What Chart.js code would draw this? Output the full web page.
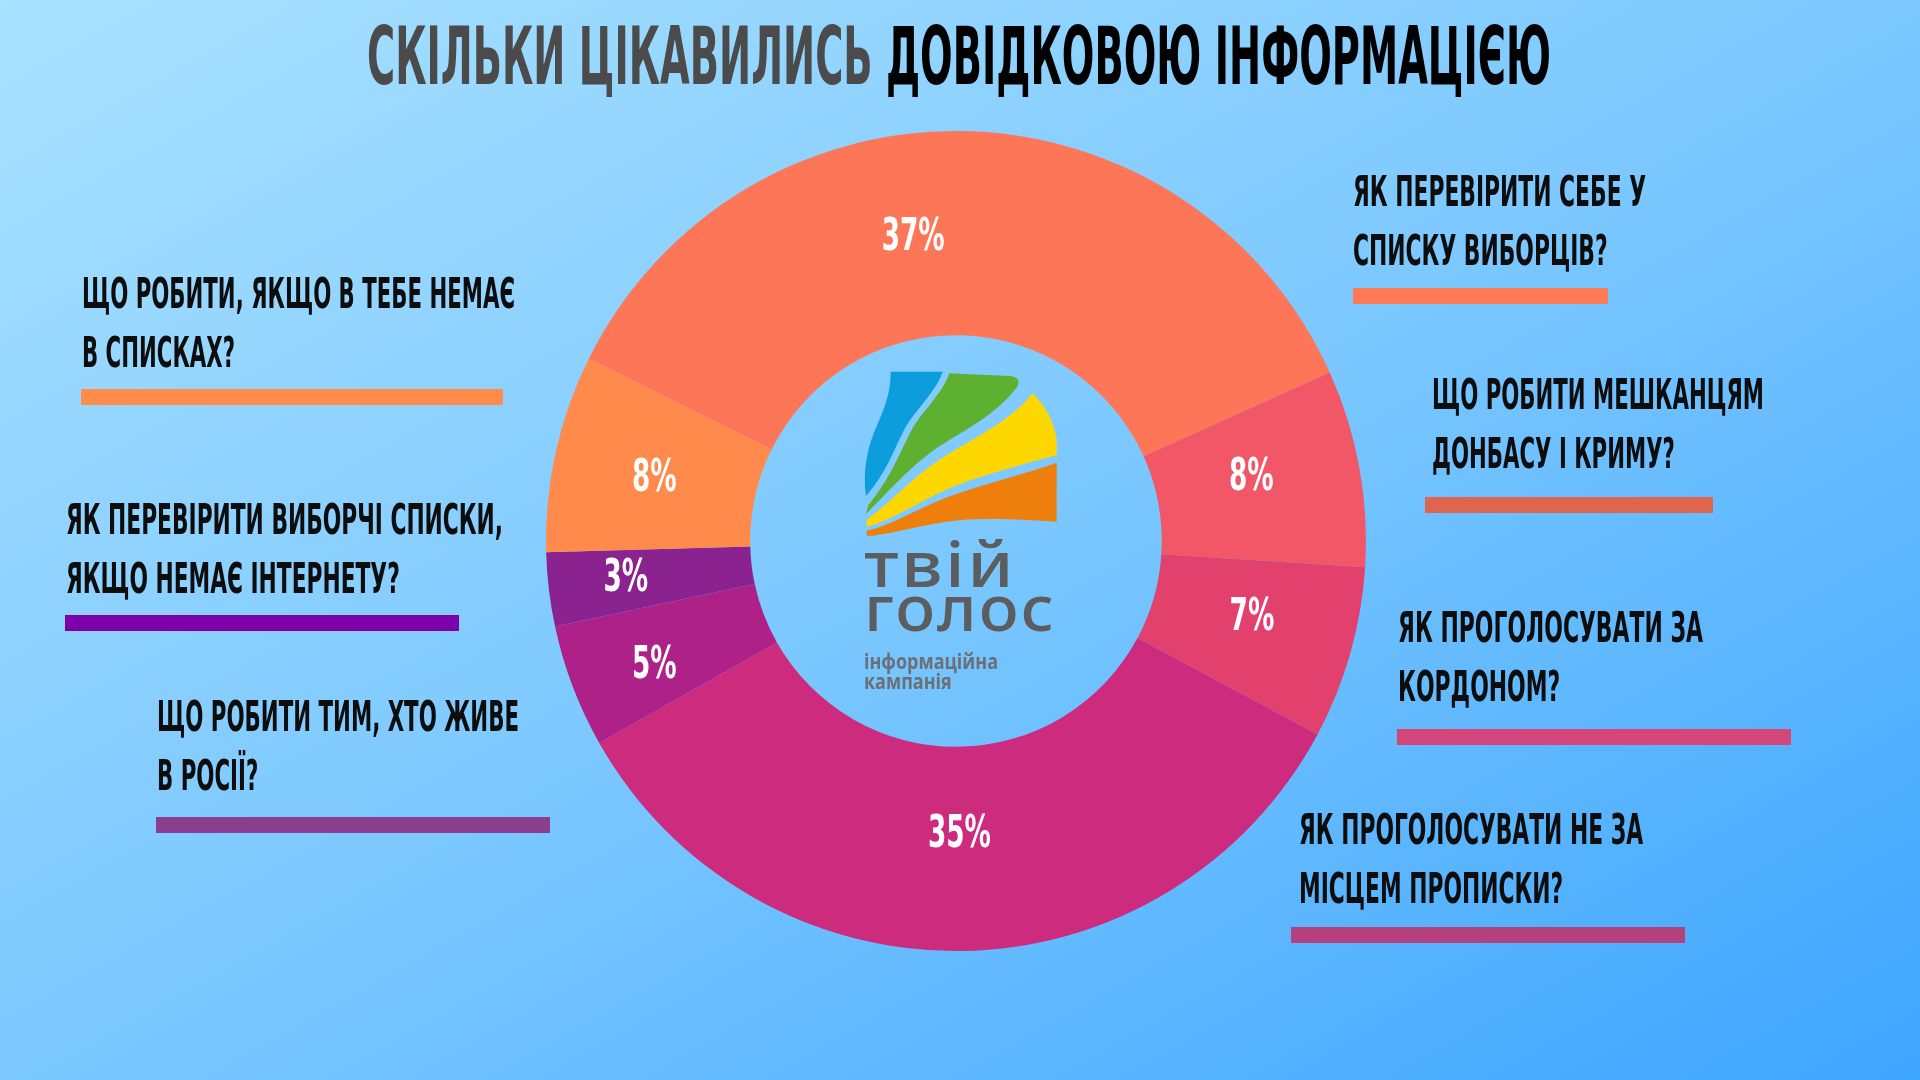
<!DOCTYPE html>
<html lang="uk">
<head>
<meta charset="utf-8">
<title>Скільки цікавились довідковою інформацією</title>
<script src="https://cdn.jsdelivr.net/npm/chart.js@4.4.1/dist/chart.umd.min.js"></script>
<style>
  html, body { margin: 0; padding: 0; }
  body {
    width: 1920px; height: 1080px; overflow: hidden; position: relative;
    background: linear-gradient(to bottom right, #a9e1ff 0%, #7cc8ff 50%, #3ea5fe 100%);
  }
  #chart { position: absolute; left: 0; top: 0; width: 1920px; height: 1080px; }
  .cond { font-family: "Liberation Sans Narrow", "DejaVu Sans Condensed", sans-serif; font-weight: 700; }
  #title {
    position: absolute; left: 367px; top: 16px;
    font-size: 81px; line-height: 81px; white-space: nowrap; width: max-content;
    transform-origin: 0 0; color: #000;
  }
  #title .grey { color: #4b4b4b; }
  .label {
    position: absolute; font-size: 42px; line-height: 59px; color: #0d0d0d;
    transform-origin: 0 0;
  }
  .label span { display: block; width: max-content; white-space: nowrap; }
  .bar { position: absolute; height: 16px; }
  #logo { position: absolute; left: 860px; top: 370px; width: 200px; height: 166.67px; }
  .logo-word {
    position: absolute; left: 864px; font-family: "Noto Sans", sans-serif; font-weight: 500;
    font-size: 64px; line-height: 64px; color: #5c5d5f; letter-spacing: 2px;
    white-space: nowrap; width: max-content; transform-origin: 0 0;
  }
  #info {
    position: absolute; left: 864px; top: 651px; font-family: "Open Sans", sans-serif;
    font-weight: 700; font-size: 21px; line-height: 20px; color: #6b7076; transform-origin: 0 0;
  }
  #info span { display: block; width: max-content; white-space: nowrap; }
</style>
</head>
<body>
<canvas id="chart" width="1920" height="1080"></canvas>

<div id="title" class="cond"><span class="grey">СКІЛЬКИ ЦІКАВИЛИСЬ</span> ДОВІДКОВОЮ ІНФОРМАЦІЄЮ</div>

<svg id="logo" viewBox="360 90 600 500">
  <path fill="#0b9ddc" d="M452,95 L608,95 C585,160 525,210 495,265 C465,320 440,400 378,468 C368,400 380,330 405,270 C435,200 452,160 452,95 Z"/>
  <path fill="#5db030" d="M628,100 L810,108 Q845,112 832,140 C760,235 650,280 575,335 C495,395 440,460 378,522 L385,495 C455,410 485,325 515,270 C545,215 605,165 628,100 Z"/>
  <path fill="#ffd700" d="M878,160 C920,200 945,255 950,300 L950,345 C860,370 740,400 640,440 C540,480 460,540 380,560 L380,540 C460,480 520,410 605,355 C690,300 805,250 878,160 Z"/>
  <path fill="#ee7f0d" d="M950,368 L950,545 C860,540 720,530 620,545 C520,560 440,585 380,588 L380,572 C460,555 540,500 640,465 C740,430 860,400 950,368 Z"/>
</svg>
<div id="tvii" class="logo-word" style="top:531px">твій</div>
<div id="golos" class="logo-word" style="top:575px">голос</div>
<div id="info"><span>інформаційна</span><span>кампанія</span></div>

<div id="labels"></div>

<script>
// Питання (по годинниковій стрілці, від верхнього сегмента)
const categories = [
  ['ЯК ПЕРЕВІРИТИ СЕБЕ У', 'СПИСКУ ВИБОРЦІВ?'],
  ['ЩО РОБИТИ МЕШКАНЦЯМ', 'ДОНБАСУ І КРИМУ?'],
  ['ЯК ПРОГОЛОСУВАТИ ЗА', 'КОРДОНОМ?'],
  ['ЯК ПРОГОЛОСУВАТИ НЕ ЗА', 'МІСЦЕМ ПРОПИСКИ?'],
  ['ЩО РОБИТИ ТИМ, ХТО ЖИВЕ', 'В РОСІЇ?'],
  ['ЯК ПЕРЕВІРИТИ ВИБОРЧІ СПИСКИ,', 'ЯКЩО НЕМАЄ ІНТЕРНЕТУ?'],
  ['ЩО РОБИТИ, ЯКЩО В ТЕБЕ НЕМАЄ', 'В СПИСКАХ?']
];
// Частка запитів, %
const values = [37, 8, 7, 35, 5, 3, 8];

// Кольори сегментів
const sliceColors = ['#fe7658', '#f25767', '#e2416e', '#cc2b7e', '#ae2188', '#8a2290', '#ff8a4c'];

// Розміщення підписів і підкреслень
const labelLayout = [
  { x: 1353, capTop: 176, w: 293, barX: 1353, barY: 288, barW: 255, bar: '#ff7a55' },
  { x: 1432, capTop: 379, w: 332, barX: 1425, barY: 497, barW: 288, bar: '#e0654f' },
  { x: 1398, capTop: 612, w: 305, barX: 1397, barY: 729, barW: 394, bar: '#d4457a' },
  { x: 1299, capTop: 814, w: 344, barX: 1291, barY: 927, barW: 394, bar: '#b4407e' },
  { x: 157,  capTop: 701, w: 362, barX: 156,  barY: 817, barW: 394, bar: '#8b3f8c' },
  { x: 66,   capTop: 504, w: 437, barX: 65,   barY: 615, barW: 394, bar: '#7e00a8' },
  { x: 82,   capTop: 278, w: 433, barX: 81,   barY: 389, barW: 422, bar: '#ff8c4b' }
];

// Стискає текст по горизонталі до потрібної ширини
function fitWidth(el, targetW) {
  const ref = el.firstElementChild && el.firstElementChild.tagName === 'SPAN' && el.id !== 'title'
    ? el.firstElementChild : el;
  el.style.transform = 'none';
  const w = ref.getBoundingClientRect().width;
  el.style.transform = `scaleX(${targetW / w})`;
}

const labelsBox = document.getElementById('labels');
categories.forEach((lines, i) => {
  const L = labelLayout[i];
  const div = document.createElement('div');
  div.className = 'label cond';
  div.style.left = L.x + 'px';
  div.style.top = (L.capTop - 14) + 'px';
  div.innerHTML = lines.map(t => `<span>${t}</span>`).join('');
  labelsBox.appendChild(div);
  fitWidth(div, L.w);

  const bar = document.createElement('div');
  bar.className = 'bar';
  bar.style.left = L.barX + 'px';
  bar.style.top = L.barY + 'px';
  bar.style.width = L.barW + 'px';
  bar.style.background = L.bar;
  labelsBox.appendChild(bar);
});

fitWidth(document.getElementById('title'), 1184);
fitWidth(document.getElementById('tvii'), 152);
fitWidth(document.getElementById('golos'), 192);
fitWidth(document.getElementById('info'), 134);

// Відсотки всередині сегментів
const pctLabels = {
  id: 'pctLabels',
  afterDatasetsDraw(chart, args, opts) {
    const ctx = chart.ctx;
    const meta = chart.getDatasetMeta(0);
    ctx.save();
    ctx.font = `bold ${opts.size}px ${opts.family}`;
    ctx.fillStyle = '#ffffff';
    ctx.textAlign = 'center';
    ctx.textBaseline = 'alphabetic';
    const squeeze = opts.refWidth / ctx.measureText(opts.refText).width;
    meta.data.forEach((arc, i) => {
      const p = arc.getProps(['x', 'y', 'startAngle', 'endAngle', 'innerRadius', 'outerRadius'], true);
      const a = (p.startAngle + p.endAngle) / 2 + (opts.angleNudge[i] || 0) * Math.PI / 180;
      const r = (p.innerRadius + p.outerRadius) / 2 + (opts.radiusNudge[i] || 0);
      ctx.save();
      ctx.translate(p.x + Math.cos(a) * r, p.y + Math.sin(a) * r + opts.cap / 2);
      ctx.scale(squeeze, 1);
      ctx.fillText(chart.data.datasets[0].data[i] + '%', 0, 0);
      ctx.restore();
    });
    ctx.restore();
  }
};

new Chart(document.getElementById('chart'), {
  type: 'doughnut',
  data: {
    labels: categories.map(l => l.join(' ')),
    datasets: [{
      data: values,
      backgroundColor: sliceColors,
      borderWidth: 0,
      offset: 0,
      hoverOffset: 0
    }]
  },
  options: {
    responsive: false,
    devicePixelRatio: 1,
    animation: false,
    events: [],
    rotation: -63.6,
    cutout: '50.2%',
    layout: { padding: { top: 131, bottom: 129, left: 546, right: 554 } },
    plugins: {
      legend: { display: false },
      tooltip: { enabled: false },
      pctLabels: {
        family: '"Liberation Sans Narrow", "DejaVu Sans Condensed", sans-serif',
        size: 45,
        cap: 32,
        refText: '37%',
        refWidth: 63,
        angleNudge: [-9, -2.5, -2, 0, -1, 1, 0],
        radiusNudge: [2, -5, -3, -18, 17, 24, 1]
      }
    }
  },
  plugins: [pctLabels]
});
</script>
</body>
</html>
